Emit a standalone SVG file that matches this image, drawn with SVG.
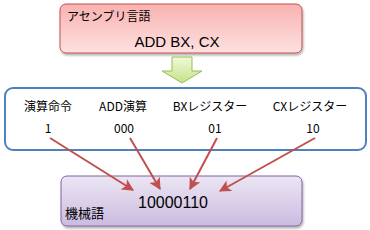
<svg xmlns="http://www.w3.org/2000/svg" width="370" height="230" viewBox="0 0 370 230">
<defs>
<linearGradient id="pink" x1="0" y1="0" x2="0" y2="1">
<stop offset="0" stop-color="#f8b2b1"/>
<stop offset="1" stop-color="#fde1e0"/>
</linearGradient>
<linearGradient id="purple" x1="0" y1="0" x2="0" y2="1">
<stop offset="0" stop-color="#ece6f4"/>
<stop offset="1" stop-color="#cbbbe0"/>
</linearGradient>
<linearGradient id="green" x1="0" y1="0" x2="0" y2="1">
<stop offset="0" stop-color="#f0f9d8"/>
<stop offset="1" stop-color="#c4e38a"/>
</linearGradient>
<marker id="ah" viewBox="0 0 10 10" refX="9" refY="5" markerWidth="6" markerHeight="6" orient="auto" markerUnits="strokeWidth">
<path d="M0,0 L10,5 L0,10 L2.5,5 z" fill="#c0504d"/>
</marker>
<filter id="sh" x="-10%" y="-10%" width="130%" height="140%">
<feDropShadow dx="1" dy="2" stdDeviation="1.2" flood-color="#000" flood-opacity="0.3"/>
</filter>
</defs>
<style>
text{font-family:"Noto Sans CJK JP","Liberation Sans",sans-serif;fill:#000}
.lbl{font-size:12px;text-anchor:middle}
.conn line{stroke:#c0504d;stroke-width:2;marker-end:url(#ah)}
</style>
<g id="assembly">
<rect x="60" y="4" width="242" height="49" rx="6" fill="url(#pink)" stroke="#c0504d" stroke-width="1" filter="url(#sh)"/>
<text x="67" y="21" style="font-size:12px">アセンブリ言語</text>
<text x="177" y="47" style="font-size:15px;text-anchor:middle;font-family:'Liberation Sans','Noto Sans CJK JP',sans-serif">ADD BX, CX</text>
</g>
<g id="convert-arrow">
<path d="M172,57 H192 V71 H202 L182,83 L162,71 H172 Z" fill="url(#green)" stroke="#9bbb59" stroke-width="1"/>
</g>
<g id="fields">
<rect x="5" y="88" width="361" height="62" rx="8" fill="#fff" stroke="#4f81bd" stroke-width="2"/>
<text class="lbl" x="48" y="111">演算命令</text>
<text class="lbl" x="123" y="111">ADD演算</text>
<text class="lbl" x="210" y="111">BXレジスター</text>
<text class="lbl" x="310" y="111">CXレジスター</text>
<text class="lbl" x="48" y="133">1</text>
<text class="lbl" x="124" y="133">000</text>
<text class="lbl" x="215" y="133">01</text>
<text class="lbl" x="313" y="133">10</text>
</g>
<g id="machine">
<rect x="61" y="176" width="241" height="50" rx="6" fill="url(#purple)" stroke="#8064a2" stroke-width="1" filter="url(#sh)"/>
<text x="173" y="208" style="font-size:16px;text-anchor:middle;font-family:'Liberation Sans','Noto Sans CJK JP',sans-serif">10000110</text>
<text x="65" y="218" style="font-size:13px">機械語</text>
</g>
<g class="conn" id="connectors">
<line x1="50" y1="138" x2="133" y2="190"/>
<line x1="130" y1="138" x2="160" y2="189"/>
<line x1="217" y1="138" x2="190" y2="189"/>
<line x1="315" y1="138" x2="220" y2="191"/>
</g>
</svg>
